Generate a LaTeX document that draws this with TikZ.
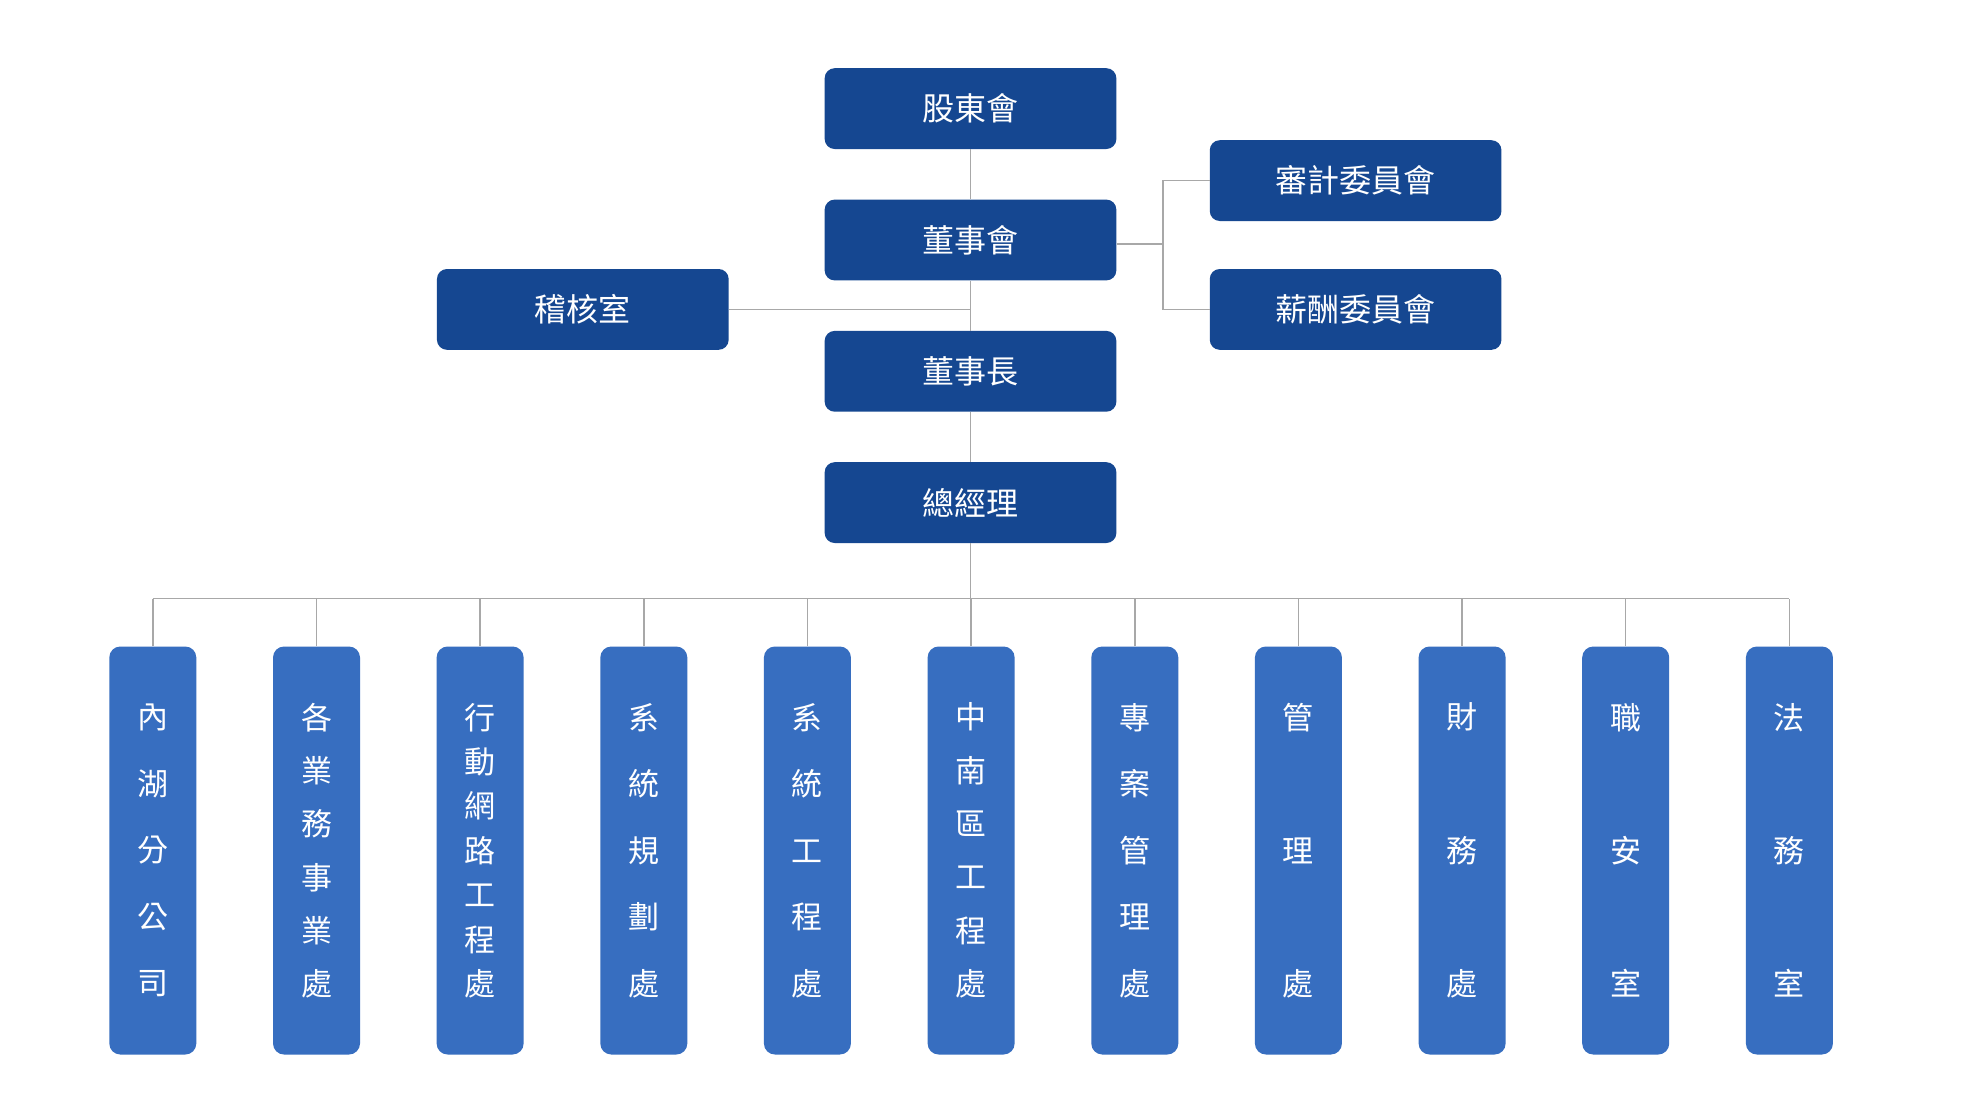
\documentclass[tikz,border=0pt]{standalone}
\usepackage{fontspec}
\newfontfamily\cjk{Noto Sans CJK TC}
\definecolor{topblue}{RGB}{21,71,145}
\definecolor{subblue}{RGB}{55,110,192}
\definecolor{linegray}{RGB}{168,168,168}
\begin{document}
\begin{tikzpicture}[x=1pt,y=-1pt,
  topbox/.style={fill=topblue, rounded corners=10pt, minimum width=291.7pt, minimum height=80.8pt,
    text=white, font=\cjk\fontsize{32}{36}\selectfont, inner sep=0pt},
  subbox/.style={fill=subblue, rounded corners=11pt, minimum width=87pt, minimum height=408pt,
    text=white, align=center, inner sep=0pt, font=\cjk\fontsize{31}{#1}\selectfont},
  conn/.style={draw=linegray, line width=1.5pt}]
\useasboundingbox (0,0) rectangle (1980,1114);
\fill[white] (0,0) rectangle (1980,1114);
\coordinate (brx) at (1163,0);
\coordinate (bus) at (0,598.6);
% top boxes
\node[topbox] (sh) at (970.5,108.6) {股東會};
\node[topbox] (bd) at (970.5,240) {董事會};
\node[topbox] (ch) at (970.5,371.3) {董事長};
\node[topbox] (gm) at (970.5,502.6) {總經理};
\node[topbox] (au) at (582.8,309.4) {稽核室};
\node[topbox] (ac) at (1355.6,180.6) {審計委員會};
\node[topbox] (rc) at (1355.6,309.4) {薪酬委員會};
\draw[conn] (sh.south) -- (bd.north);
\draw[conn] (bd.south) -- (ch.north);
\draw[conn] (ch.south) -- (gm.north);
\draw[conn] (au.east) -- (au.east -| bd.south);
\draw[conn] ([yshift=-4pt]bd.east) -- ([yshift=-4pt]bd.east -| brx);
\draw[conn] (ac.west) -- (ac.west -| brx) -- (rc.west -| brx) -- (rc.west);
% bottom boxes
\node[subbox=66.6] (s1) at (152.8,850.5) {內\\湖\\分\\公\\司};
\node[subbox=53.3] (s2) at (316.5,850.5) {各\\業\\務\\事\\業\\處};
\node[subbox=44.4] (s3) at (480.1,850.5) {行\\動\\網\\路\\工\\程\\處};
\node[subbox=66.6] (s4) at (643.8,850.5) {系\\統\\規\\劃\\處};
\node[subbox=66.6] (s5) at (807.4,850.5) {系\\統\\工\\程\\處};
\node[subbox=53.3] (s6) at (971.1,850.5) {中\\南\\區\\工\\程\\處};
\node[subbox=66.6] (s7) at (1134.8,850.5) {專\\案\\管\\理\\處};
\node[subbox=133.2] (s8) at (1298.4,850.5) {管\\理\\處};
\node[subbox=133.2] (s9) at (1462.1,850.5) {財\\務\\處};
\node[subbox=133.2] (s10) at (1625.7,850.5) {職\\安\\室};
\node[subbox=133.2] (s11) at (1789.4,850.5) {法\\務\\室};
\draw[conn] (gm.south) -- (gm.south |- bus);
\draw[conn] (s1.north |- bus) -- (s11.north |- bus);
\foreach \i in {1,...,11} {\draw[conn] (s\i.north) -- (s\i.north |- bus);}
\end{tikzpicture}
\end{document}
